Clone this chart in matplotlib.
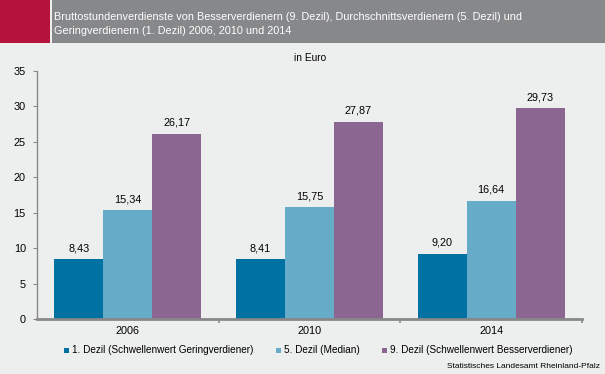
import matplotlib
matplotlib.use("Agg")
import matplotlib.pyplot as plt
from matplotlib.patches import Rectangle
import numpy as np

plt.rcParams['font.family'] = ['Liberation Sans', 'DejaVu Sans']

years = ["2006", "2010", "2014"]
series_names = ["1. Dezil (Schwellenwert Geringverdiener)",
                "5. Dezil (Median)",
                "9. Dezil (Schwellenwert Besserverdiener)"]
dezil1 = [8.43, 8.41, 9.20]
dezil5 = [15.34, 15.75, 16.64]
dezil9 = [26.17, 27.87, 29.73]
colors = ["#0071A3", "#66ACC9", "#8A6690"]

title = ("Bruttostundenverdienste von Besserverdienern (9. Dezil), Durchschnittsverdienern (5. Dezil) und\n"
         "Geringverdienern (1. Dezil) 2006, 2010 und 2014")
bg = "#EDEFEE"
W, H = 605, 374

fig = plt.figure(figsize=(W/100, H/100), dpi=100, facecolor=bg)

# header
fig.patches.append(Rectangle((0, 1-43/H), 50/W, 43/H, transform=fig.transFigure,
                             facecolor="#B5123E", edgecolor="none"))
fig.patches.append(Rectangle((52/W, 1-43/H), 1-52/W, 43/H, transform=fig.transFigure,
                             facecolor="#87888A", edgecolor="none"))
fig.text(54/W, 1-24/H, title, color="white", fontsize=7.85, va="center", ha="left",
         linespacing=1.6)
fig.text(310/W, 1-58/H, "in Euro", fontsize=7.3, ha="center", va="center")

ax = fig.add_axes([37/W, (H-319)/H, (582-37)/W, (319-71)/H])
ax.set_facecolor(bg)
x = np.arange(len(years))
bw = 0.27
for i, (vals, c) in enumerate(zip([dezil1, dezil5, dezil9], colors)):
    bars = ax.bar(x + (i-1)*bw, vals, bw, color=c, label=series_names[i], zorder=2)
    for b, v in zip(bars, vals):
        ax.annotate(f"{v:.2f}".replace(".", ","), (b.get_x()+b.get_width()/2, v),
                    xytext=(0, 4.5), textcoords="offset points", ha="center", va="bottom",
                    fontsize=7.8)

ax.set_xlim(-0.5, 2.5)
ax.set_ylim(0, 35)
ax.set_yticks(range(0, 36, 5))
ax.set_xticks(x)
ax.set_xticklabels(years, fontsize=7.8)
ax.set_xticks([0.5, 1.5, 2.5], minor=True)
ax.tick_params(axis="x", which="major", length=0, pad=5)
ax.tick_params(axis="x", which="minor", length=3, color="#888888", width=1.2)
ax.tick_params(axis="y", length=3, color="#888888", labelsize=7.8, pad=5)
for s in ["top", "right"]:
    ax.spines[s].set_visible(False)
ax.spines["left"].set_color("#888888")
ax.spines["left"].set_linewidth(1)
ax.spines["bottom"].set_color("#888888")
ax.spines["bottom"].set_linewidth(2)
ax.spines["bottom"].set_zorder(3)

# legend (manual placement to match the reference)
leg_x = [64, 276, 382]
for lx, name, c in zip(leg_x, series_names, colors):
    fig.patches.append(Rectangle((lx/W, 1-352.5/H), 5/W, 5/H, transform=fig.transFigure,
                                 facecolor=c, edgecolor="none"))
    fig.text((lx+8)/W, 1-350/H, name, fontsize=7.2, ha="left", va="center")

fig.text(600/W, 1-367/H, "Statistisches Landesamt Rheinland-Pfalz", fontsize=6.0,
         ha="right", va="center")

fig.savefig("out.png", dpi=100, facecolor=bg)
